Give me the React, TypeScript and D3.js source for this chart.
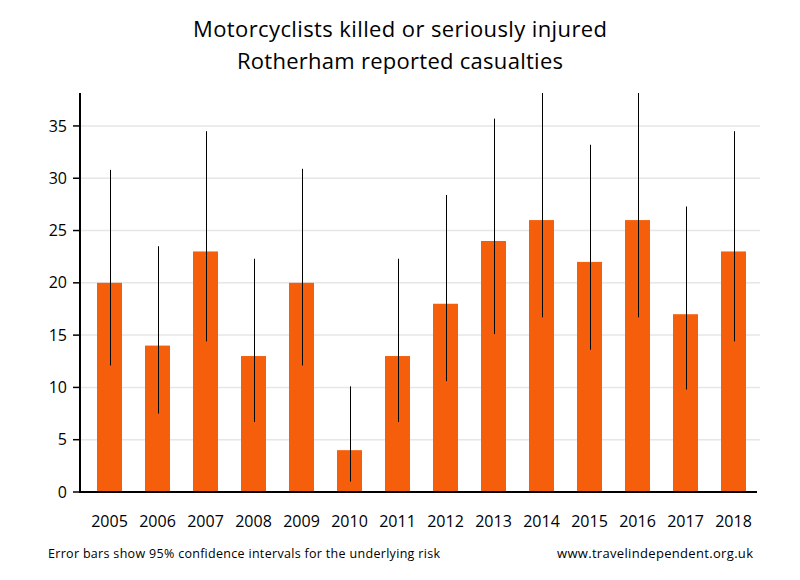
import React from "react";
import * as d3 from "d3";

const years = ["2005","2006","2007","2008","2009","2010","2011","2012","2013","2014","2015","2016","2017","2018"];
const values = [20,14,23,13,20,4,13,18,24,26,22,26,17,23];
const lower = [12.1,7.5,14.4,6.7,12.1,1.0,6.7,10.6,15.1,16.7,13.6,16.7,9.8,14.4];
const upper = [30.8,23.5,34.5,22.3,30.9,10.1,22.3,28.4,35.7,38.5,33.2,38.5,27.3,34.5];
const yTicks = [0,5,10,15,20,25,30,35];

export default function App() {
  const W = 800, H = 580;
  const left = 80, right = 760, top = 93, bottom = 492;
  const x = d3.scaleBand<string>().domain(years).range([85, 758]).paddingInner(23 / 48).paddingOuter(0.25);
  const y = d3.scaleLinear().domain([0, 38.15]).range([bottom, top]).clamp(true);
  const font = "'Open Sans', 'DejaVu Sans', sans-serif";
  return (
    <svg width={W} height={H} style={{ position: "absolute", left: 0, top: 0, background: "#fff" }}>
      <text x={400} y={37} textAnchor="middle" fontFamily={font} fontSize={22} fill="#000" textLength={414}>Motorcyclists killed or seriously injured</text>
      <text x={400} y={69} textAnchor="middle" fontFamily={font} fontSize={22} fill="#000" textLength={326}>Rotherham reported casualties</text>
      {yTicks.filter(t => t > 0).map(t => (
        <line key={"g" + t} x1={left} x2={right} y1={y(t)} y2={y(t)} stroke="#e6e6e6" strokeWidth={1.5} />
      ))}
      {years.map((yr, i) => (
        <rect key={"b" + yr} x={x(yr)!} y={y(values[i])} width={x.bandwidth()} height={bottom - y(values[i])} fill="#f55f0c" />
      ))}
      {years.map((yr, i) => {
        const cx = Math.round(x(yr)! + x.bandwidth() / 2) + 0.5;
        return <line key={"e" + yr} x1={cx} x2={cx} y1={y(lower[i])} y2={y(upper[i])} stroke="#000" strokeWidth={1} />;
      })}
      <line x1={left} x2={left} y1={top} y2={bottom + 1} stroke="#000" strokeWidth={2} />
      <line x1={left - 1} x2={757} y1={bottom} y2={bottom} stroke="#000" strokeWidth={2} />
      {yTicks.map(t => (
        <g key={"t" + t}>
          <line x1={left - 7} x2={left} y1={y(t)} y2={y(t)} stroke="#000" strokeWidth={1.5} />
          <text x={left - 13} y={y(t)} dy="0.35em" textAnchor="end" fontFamily={font} fontSize={16} fill="#000">{t}</text>
        </g>
      ))}
      {years.map(yr => (
        <text key={"x" + yr} x={x(yr)! + x.bandwidth() / 2} y={527} textAnchor="middle" fontFamily={font} fontSize={16} fill="#000">{yr}</text>
      ))}
      <text x={48} y={558} fontFamily={font} fontSize={12.5} fill="#000" textLength={392}>Error bars show 95% confidence intervals for the underlying risk</text>
      <text x={557} y={558} fontFamily={font} fontSize={13} fill="#000" textLength={196}>www.travelindependent.org.uk</text>
    </svg>
  );
}
